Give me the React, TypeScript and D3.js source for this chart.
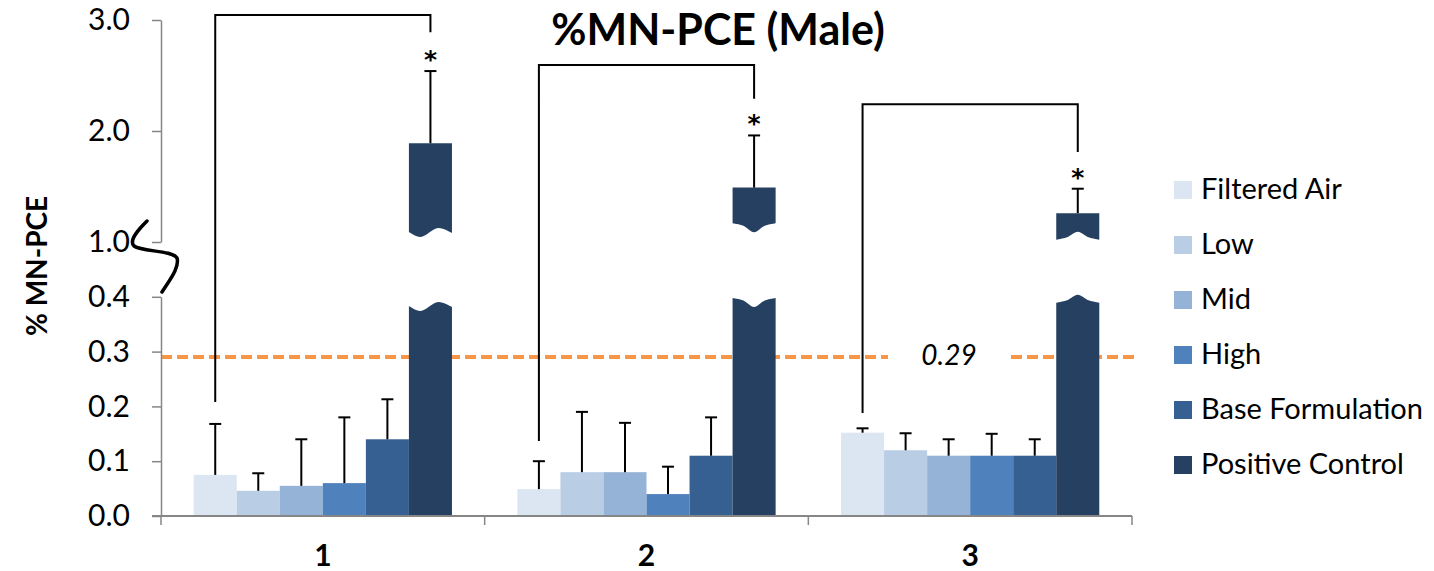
import React, { useEffect, useRef } from 'react';
import * as d3 from 'd3';

const groups = ['1', '2', '3'];
const series = ['Filtered Air', 'Low', 'Mid', 'High', 'Base Formulation', 'Positive Control'];
const colors = ['#DCE6F2', '#B9CDE5', '#95B3D7', '#4F81BD', '#376092', '#254061'];

// mean per group, series order
const means = [
  [0.075, 0.046, 0.055, 0.06, 0.14, 1.89],
  [0.049, 0.08, 0.08, 0.04, 0.11, 1.49],
  [0.152, 0.12, 0.11, 0.11, 0.11, 1.26],
];
// top of error bar
const errTops = [
  [0.168, 0.078, 0.14, 0.18, 0.213, 2.54],
  [0.1, 0.19, 0.17, 0.09, 0.18, 1.96],
  [0.16, 0.151, 0.14, 0.15, 0.14, 1.48],
];

// where the positive control bars are cut
const breakLow = [0.383, 0.398, 0.389];
const breakHigh = [1.09, 1.17, 1.02];

// significance brackets (Filtered Air -> Positive Control)
const bracketTop = [3.045, 2.595, 2.24];
const bracketRightEnd = [2.89, 2.29, 1.81];
const bracketLeftEnd = [0.208, 0.137, 0.188];

const refValue = 0.29;
const lowerTicks = [0, 0.1, 0.2, 0.3, 0.4];
const upperTicks = [1, 2, 3];

const W = 1434;
const H = 571;
const font = 'Lato, "Noto Sans", sans-serif';

const lower = d3.scaleLinear().domain([0, 0.4]).range([516, 296.8]);
const upper = d3.scaleLinear().domain([1, 3]).range([242, 20]);
const yv = (v: number) => (v <= 0.4 ? lower(v) : upper(v));

const x0 = d3.scaleBand().domain(groups).range([161, 1132]);
const x1 = d3.scaleBand().domain(series).range([0, x0.bandwidth()]).paddingOuter(0.76);

// wavy cut shapes, [fraction of width, px offset]
const cutShapes: [number, number][][] = [
  [[0, 0], [0.27, 5], [0.68, -4], [1, 1]],
  [[0, 0], [0.25, 2.5], [0.5, 9], [0.75, 2.5], [1, 0]],
  [[0, 0], [0.25, -2.5], [0.5, -8], [0.75, -2.5], [1, 0]],
];

const waveLine = d3.line<[number, number]>().curve(d3.curveCatmullRom);

function wave(gi: number, xa: number, w: number, y: number, reverse = false) {
  let pts = cutShapes[gi].map(([t, o]) => [xa + t * w, y + o] as [number, number]);
  if (reverse) pts = pts.reverse();
  return (waveLine(pts) || '').replace(/^M/, 'L');
}

export default function App() {
  const axRef = useRef<SVGGElement>(null);

  useEffect(() => {
    const g = d3.select(axRef.current);
    g.selectAll('*').remove();
    const fmt = d3.format('.1f');
    const up = g.append('g').attr('transform', 'translate(161,0)')
      .call(d3.axisLeft(upper).tickValues(upperTicks).tickFormat(fmt as any).tickSize(9).tickSizeOuter(0).tickPadding(22));
    const lo = g.append('g').attr('transform', 'translate(161,0)')
      .call(d3.axisLeft(lower).tickValues(lowerTicks).tickFormat(fmt as any).tickSize(9).tickSizeOuter(0).tickPadding(22));
    [up, lo].forEach((a) => {
      a.select('.domain').attr('stroke', '#868686').attr('stroke-width', 1.5);
      a.selectAll('.tick line').attr('stroke', '#868686').attr('stroke-width', 1.5);
      a.selectAll('.tick text').attr('fill', '#000').style('font-family', font).style('font-size', '30px');
    });
  }, []);

  const step = x0.step();
  const bw = x1.bandwidth();

  return (
    <svg width={W} height={H} style={{ position: 'absolute', left: 0, top: 0, background: '#fff' }}>
      <text x={718} y={45} textAnchor="middle" fontFamily={font} fontWeight="bold" fontSize={43}>%MN-PCE (Male)</text>

      <text transform="translate(47,266) rotate(-90)" textAnchor="middle" fontFamily={font} fontWeight="bold" fontSize={28}>% MN-PCE</text>

      {/* reference line */}
      <line x1={161} x2={888} y1={lower(refValue)} y2={lower(refValue)} stroke="#F79646" strokeWidth={4} strokeDasharray="11 5" />
      <line x1={1011} x2={1137} y1={lower(refValue)} y2={lower(refValue)} stroke="#F79646" strokeWidth={4} strokeDasharray="11 5" />
      <text x={949} y={365} textAnchor="middle" fontFamily={font} fontStyle="italic" fontSize={28}>{refValue.toFixed(2)}</text>

      {/* bars */}
      {groups.map((gName, gi) => {
        const gx = x0(gName)!;
        return (
          <g key={gName}>
            {series.map((s, si) => {
              const xa = gx + x1(s)!;
              const v = means[gi][si];
              if (si < series.length - 1) {
                return <rect key={s} x={xa} y={yv(v)} width={bw} height={lower(0) - yv(v)} fill={colors[si]} />;
              }
              const lowPath = `M${xa},${lower(0)}` + wave(gi, xa, bw, lower(breakLow[gi])) + `L${xa + bw},${lower(0)}Z`;
              const upPath = `M${xa},${upper(v)}L${xa + bw},${upper(v)}` + wave(gi, xa, bw, upper(breakHigh[gi]), true) + 'Z';
              return (
                <g key={s}>
                  <path d={lowPath} fill={colors[si]} />
                  <path d={upPath} fill={colors[si]} />
                </g>
              );
            })}
            {series.map((s, si) => {
              const cx = gx + x1(s)! + bw / 2;
              const yTop = yv(errTops[gi][si]);
              return (
                <g key={s + 'e'} stroke="#000" strokeWidth={2}>
                  <line x1={cx} x2={cx} y1={yv(means[gi][si])} y2={yTop} />
                  <line x1={cx - 6} x2={cx + 6} y1={yTop} y2={yTop} />
                </g>
              );
            })}
            {(() => {
              const xl = gx + x1(series[0])! + bw / 2;
              const xr = gx + x1(series[5])! + bw / 2;
              const capY = upper(errTops[gi][5]);
              return (
                <g>
                  <path d={`M${xl},${lower(bracketLeftEnd[gi])}V${upper(bracketTop[gi])}H${xr}V${upper(bracketRightEnd[gi])}`} fill="none" stroke="#000" strokeWidth={2} />
                  <text x={xr} y={capY - 3} textAnchor="middle" fontFamily='"DejaVu Sans", sans-serif' fontWeight="bold" fontSize={25}>*</text>
                </g>
              );
            })()}
          </g>
        );
      })}

      <g ref={axRef} />

      {/* x axis */}
      <line x1={152} x2={1132} y1={lower(0)} y2={lower(0)} stroke="#868686" strokeWidth={2} />
      {[...groups.map((g) => x0(g)!), 161 + step * groups.length].map((x, i) => (
        <line key={i} x1={x} x2={x} y1={lower(0)} y2={lower(0) + 9} stroke="#868686" strokeWidth={1.5} />
      ))}
      {groups.map((g) => (
        <text key={g} x={x0(g)! + step / 2} y={566} textAnchor="middle" fontFamily={font} fontWeight="bold" fontSize={30}>{g}</text>
      ))}

      {/* axis break mark */}
      <path d="M147,221 C140,228 128,240 134,246 C142,252 172,250 177,258 C180,268 168,282 162,292" fill="none" stroke="#000" strokeWidth={3.5} strokeLinecap="round" />

      {/* legend */}
      {series.map((s, i) => (
        <g key={s} transform={`translate(1174,${181 + i * 55})`}>
          <rect width={18} height={18} fill={colors[i]} />
          <text x={27} y={18} fontFamily={font} fontSize={29}>{s}</text>
        </g>
      ))}
    </svg>
  );
}
